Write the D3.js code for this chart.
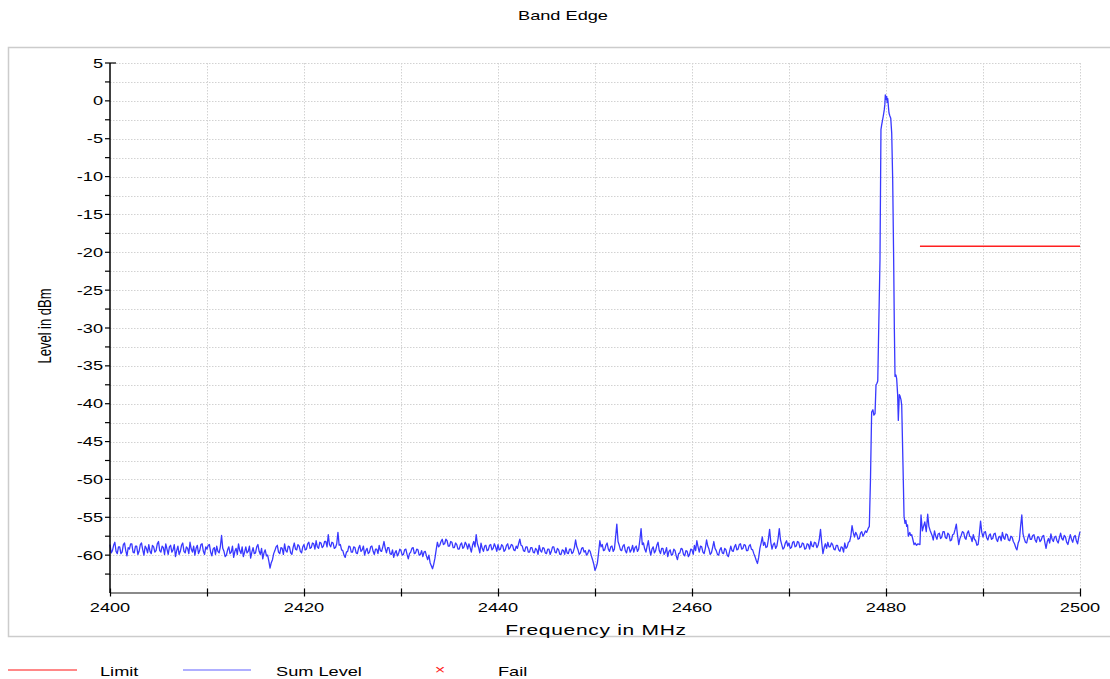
<!DOCTYPE html>
<html>
<head>
<meta charset="utf-8">
<script src="https://cdn.jsdelivr.net/npm/d3@7"></script>
<style>
  body { margin: 0; background: #fff; }
  svg { display: block; font-family: "Liberation Sans", Arial, sans-serif; }
</style>
</head>
<body>
<svg id="chart" width="1110" height="679"></svg>
<script>
// Sweep below the carrier, 2400 .. 2477.875 MHz, 0.125 MHz steps (dBm)
const noiseLow = [
  -58.6,-59.7,-59.4,-58.7,-58.3,-59.5,-59.8,-58.9,-58.9,-59.8,-59.6,-58.6,-58.4,-59.4,-60.1,-59.0,-59.2,-58.5,-58.5,-59.6,
  -59.7,-58.8,-58.8,-59.9,-59.5,-58.6,-58.4,-59.3,-60.0,-58.8,-59.1,-59.7,-58.6,-59.5,-59.8,-58.7,-58.9,-59.6,-59.4,-58.5,
  -58.2,-59.4,-59.6,-58.8,-59.0,-59.9,-58.5,-59.2,-59.9,-58.9,-58.7,-59.6,-59.3,-58.6,-60.2,-59.4,-58.8,-59.9,-59.5,-58.7,
  -58.4,-59.5,-59.7,-58.9,-59.1,-59.8,-58.3,-59.2,-59.6,-58.8,-60.0,-59.1,-58.7,-59.8,-59.4,-58.6,-58.5,-59.5,-59.9,-58.9,
  -59.2,-58.7,-58.6,-59.6,-60.1,-59.2,-59.0,-59.9,-58.8,-59.5,-59.7,-58.9,-57.4,-59.1,-59.5,-60.2,-60.0,-59.3,-58.9,-59.8,
  -59.6,-58.8,-60.3,-59.5,-59.1,-59.9,-58.5,-59.4,-59.8,-58.9,-60.2,-59.6,-58.9,-59.7,-59.5,-58.8,-60.4,-59.6,-59.0,-59.8,
  -59.7,-58.9,-58.6,-59.5,-59.9,-59.1,-60.5,-59.7,-59.3,-60.1,-60.0,-60.8,-61.7,-61.0,-60.6,-59.8,-59.4,-58.9,-58.7,-59.6,
  -59.8,-59.0,-59.1,-59.9,-58.5,-59.4,-59.6,-58.8,-58.9,-59.7,-59.9,-59.0,-58.4,-59.2,-59.3,-58.6,-58.8,-59.5,-59.7,-58.9,
  -58.6,-59.3,-59.2,-58.5,-58.3,-59.1,-59.0,-58.4,-58.5,-59.2,-58.1,-58.9,-59.1,-58.3,-58.4,-59.0,-58.8,-58.2,-58.2,-58.9,
  -57.3,-58.6,-58.9,-58.3,-58.4,-59.1,-59.0,-58.5,-57.0,-58.7,-58.6,-59.3,-59.4,-60.0,-60.3,-59.6,-59.5,-58.8,-58.9,-59.6,
  -59.6,-58.9,-59.0,-59.7,-59.8,-59.1,-58.7,-59.5,-59.3,-58.8,-60.0,-59.4,-59.1,-59.8,-59.6,-58.9,-58.8,-59.5,-59.9,-59.2,
  -59.2,-59.8,-58.7,-59.4,-59.5,-58.9,-58.2,-59.1,-59.7,-59.0,-59.0,-59.8,-59.9,-59.3,-60.3,-59.7,-59.4,-60.1,-59.8,-59.2,
  -59.4,-60.0,-59.9,-59.3,-59.2,-59.9,-60.5,-59.8,-59.6,-59.1,-59.0,-59.8,-59.7,-59.2,-59.3,-60.0,-59.9,-59.4,-60.2,-59.6,
  -59.5,-60.1,-60.6,-60.0,-61.0,-61.4,-61.8,-61.2,-60.4,-59.3,-58.3,-58.9,-58.7,-58.2,-57.9,-58.6,-58.5,-57.9,-58.1,-58.8,
  -58.8,-58.2,-58.3,-59.0,-59.0,-58.4,-58.6,-59.2,-59.2,-58.6,-58.4,-59.1,-58.9,-58.3,-58.6,-59.2,-58.5,-59.0,-59.6,-58.7,
  -58.2,-58.9,-57.3,-58.5,-59.0,-59.7,-58.4,-59.1,-59.5,-58.8,-58.7,-59.4,-59.3,-58.7,-58.6,-59.3,-59.1,-58.5,-58.9,-59.5,
  -58.6,-59.3,-59.2,-58.6,-58.8,-59.5,-59.3,-58.7,-58.5,-59.2,-59.0,-58.6,-58.7,-59.3,-59.4,-58.8,-59.1,-58.5,-57.9,-58.7,
  -58.8,-59.4,-59.5,-58.9,-58.9,-59.6,-59.6,-59.0,-59.0,-59.6,-59.7,-59.1,-59.3,-59.9,-58.7,-59.4,-59.6,-59.0,-59.1,-59.7,
  -59.8,-59.2,-59.2,-59.9,-59.5,-58.9,-58.9,-59.6,-59.7,-59.1,-59.3,-59.9,-59.9,-59.3,-59.4,-59.9,-59.0,-59.7,-59.8,-59.2,
  -59.2,-59.8,-59.6,-59.0,-58.0,-58.9,-59.3,-59.9,-59.7,-59.1,-59.0,-59.6,-59.4,-60.0,-59.8,-59.3,-59.5,-60.1,-60.6,-61.2,
  -62.0,-61.6,-61.0,-59.6,-58.1,-58.9,-58.6,-59.4,-59.3,-58.7,-58.4,-59.2,-59.5,-58.9,-58.8,-59.5,-59.2,-57.6,-55.9,-58.2,
  -58.7,-59.3,-59.4,-58.8,-58.6,-59.4,-59.7,-59.0,-58.9,-59.6,-59.3,-58.7,-59.6,-59.0,-58.8,-59.5,-59.2,-58.0,-56.5,-58.6,
  -58.4,-59.2,-59.6,-58.8,-58.1,-59.3,-60.0,-59.2,-58.9,-59.7,-59.4,-58.7,-58.3,-59.4,-59.8,-59.1,-59.1,-59.9,-59.6,-59.0,
  -60.2,-59.5,-59.3,-60.0,-59.9,-59.2,-59.4,-60.1,-60.6,-59.8,-59.7,-59.1,-59.2,-59.9,-60.1,-59.4,-59.5,-60.2,-59.9,-59.2,
  -59.3,-59.9,-58.7,-59.4,-58.1,-58.9,-59.6,-58.8,-58.9,-59.6,-59.8,-59.1,-58.0,-58.8,-59.2,-59.9,-59.7,-59.0,-58.2,-59.1,
  -59.4,-59.9,-60.0,-59.3,-59.0,-59.7,-59.8,-59.1,-59.3,-60.0,-60.2,-59.5,-58.8,-59.4,-59.5,-58.9,-58.6,-59.3,-59.2,-58.6,
  -58.5,-59.2,-59.1,-58.6,-58.7,-59.4,-59.4,-58.8,-58.6,-59.2,-59.3,-59.8,-60.2,-60.7,-61.1,-60.3,-59.1,-58.4,-57.6,-58.7,
  -58.3,-59.0,-58.9,-57.9,-56.6,-58.3,-59.2,-58.6,-58.4,-59.1,-58.8,-57.8,-56.5,-58.0,-58.6,-59.2,-59.0,-58.4,-58.1,-58.8,
  -58.4,-59.1,-59.0,-58.3,-58.2,-58.9,-58.8,-58.2,-58.3,-59.0,-58.9,-58.4,-58.5,-59.2,-59.1,-58.5,-58.6,-59.2,-58.2,-58.8,
  -58.9,-58.3,-58.4,-59.0,-58.7,-57.9,-56.6,-58.4,-59.8,-59.0,-58.5,-59.1,-58.3,-58.9,-58.9,-58.4,-58.6,-59.2,-59.3,-58.7,
  -58.7,-59.3,-59.5,-58.9,-59.0,-59.6,-58.4,-59.1,-58.9,-58.3,-58.2,-57.5,-56.1,-57.0,-57.6,-57.0,-57.3,-57.9,-57.8,-57.1,
  -56.9,-57.5,-57.2,-56.8
];
const lowStart = 2400, step = 0.125;

// Carrier region, read point by point
const peakFreq = [
  2478.0, 2478.15, 2478.28, 2478.4, 2478.52, 2478.65, 2478.75, 2478.87, 2478.97, 2479.07,
  2479.15, 2479.25, 2479.38, 2479.48, 2479.55, 2479.62, 2479.72, 2479.82, 2479.88, 2479.93,
  2480.0, 2480.07, 2480.12, 2480.18, 2480.25, 2480.31, 2480.4, 2480.49, 2480.59, 2480.69,
  2480.79, 2480.86, 2480.93, 2481.02, 2481.1, 2481.2, 2481.27, 2481.37, 2481.45, 2481.55,
  2481.62, 2481.75, 2481.86, 2481.96, 2482.05, 2482.13, 2482.22, 2482.3, 2482.45, 2482.55,
  2482.65, 2482.8, 2482.89, 2483.0, 2483.15, 2483.3, 2483.5, 2483.61, 2483.75, 2483.85,
  2484.0, 2484.15, 2484.3, 2484.42, 2484.54
];
const peakLevel = [
  -57.0, -56.5, -56.2, -50.0, -41.1, -40.8, -41.5, -41.3, -37.5, -37.3,
  -37.0, -30.0, -21.0, -3.8, -3.2, -2.7, -2.0, -1.2, -0.5, 0.8,
  0.2, 0.6, -0.2, 0.3, -0.8, -1.6, -2.0, -2.3, -4.3, -10.5,
  -21.0, -30.0, -36.4, -36.2, -36.7, -38.8, -42.2, -38.8, -39.0, -39.5,
  -40.2, -48.0, -54.9, -55.8, -55.4, -56.2, -56.0, -57.5, -57.0, -57.4,
  -57.3, -58.1, -58.6, -58.4, -58.7, -58.5, -58.6, -54.7, -56.8, -56.3,
  -55.6, -56.9, -54.6, -56.2, -56.7
];

// Sweep above the carrier, 2484.75 .. 2500 MHz, 0.125 MHz steps
const noiseHigh = [
  -57.4,-58.0,
  -56.8,-57.5,-57.9,-57.2,-57.1,-57.8,-57.6,-56.9,-56.9,-57.7,-57.8,-57.1,-57.3,-58.1,-58.0,-57.3,
  -57.2,-56.6,-55.9,-57.4,-58.6,-57.8,-57.4,-56.9,-57.0,-57.7,-57.9,-57.1,-56.8,-57.5,-57.6,-58.2,
  -57.3,-57.9,-58.1,-58.7,-58.6,-57.2,-55.5,-57.0,-57.6,-57.0,-56.9,-57.7,-58.0,-57.4,-57.2,-57.9,
  -57.8,-57.2,-57.1,-57.9,-58.2,-57.6,-57.5,-58.1,-57.0,-57.7,-57.9,-57.2,-57.3,-58.0,-58.1,-57.5,
  -57.6,-58.2,-58.5,-59.0,-59.3,-58.4,-58.0,-56.2,-54.7,-57.2,-57.8,-58.3,-58.4,-57.7,-57.2,-57.9,
  -57.9,-57.4,-57.3,-58.0,-58.3,-57.6,-57.6,-58.2,-58.0,-57.5,-57.4,-58.3,-59.1,-58.2,-57.8,-58.4,
  -57.2,-57.9,-58.2,-57.6,-57.5,-58.1,-58.4,-57.7,-57.1,-57.8,-58.0,-57.4,
  -57.6,-58.3,-58.6,-57.9,-57.3,-57.9,-58.3,-57.6,-57.4,-58.1,-58.5,-57.6,
  -56.9
];
const highStart = 2484.75;

// Limit line
const limitFreq = [2483.5, 2500];
const limitLevel = -19.2;

const xTicks = [2400, 2420, 2440, 2460, 2480, 2500];
const yTicks = [5, 0, -5, -10, -15, -20, -25, -30, -35, -40, -45, -50, -55, -60];

const trace = [
  ...noiseLow.map((v, i) => ({ f: lowStart + i * step, v })),
  ...peakFreq.map((f, i) => ({ f, v: peakLevel[i] })),
  ...noiseHigh.map((v, i) => ({ f: highStart + i * step, v }))
];

const svg = d3.select("#chart");
const plotLeft = 110, plotRight = 1080, plotTop = 63, plotBottom = 593;
const sx = 1.4; // text is drawn wide, as in the reference

const xScale = d3.scaleLinear().domain([2400, 2500]).range([plotLeft, plotRight]);
const yScale = d3.scaleLinear().domain([-65, 5]).range([plotBottom, plotTop]);

// Outer frame
svg.append("rect")
  .attr("x", 8.5).attr("y", 47.5)
  .attr("width", 1120).attr("height", 589)
  .attr("fill", "none").attr("stroke", "#cccccc").attr("stroke-width", 1.5);

// Title
svg.append("text")
  .attr("transform", `translate(563,20) scale(${sx},1)`)
  .attr("text-anchor", "middle")
  .attr("font-size", 13)
  .text("Band Edge");

// Grid
const grid = svg.append("g")
  .attr("stroke", "#d2d2d2").attr("stroke-width", 1).attr("stroke-dasharray", "1.5,1.5");
grid.selectAll(".hgrid")
  .data(d3.range(-62.5, 5.01, 2.5))
  .join("line")
  .attr("x1", plotLeft).attr("x2", plotRight)
  .attr("y1", d => Math.round(yScale(d)) + 0.5).attr("y2", d => Math.round(yScale(d)) + 0.5);
grid.selectAll(".vgrid")
  .data(d3.range(2410, 2500.1, 10))
  .join("line")
  .attr("y1", plotTop).attr("y2", plotBottom)
  .attr("x1", d => Math.round(xScale(d)) + 0.5).attr("x2", d => Math.round(xScale(d)) + 0.5);

// Trace
svg.append("path")
  .datum(trace)
  .attr("fill", "none")
  .attr("stroke", "#3838ff")
  .attr("stroke-width", 1.3)
  .attr("stroke-linejoin", "round")
  .attr("d", d3.line().x(d => xScale(d.f)).y(d => yScale(d.v)));

// Limit
svg.append("line")
  .attr("x1", xScale(limitFreq[0])).attr("x2", xScale(limitFreq[1]))
  .attr("y1", yScale(limitLevel)).attr("y2", yScale(limitLevel))
  .attr("stroke", "#ff2020").attr("stroke-width", 1.5);

// X axis
const bottomAxis = d3.axisBottom(xScale)
  .tickValues(d3.range(2400, 2500.1, 10))
  .tickSizeInner(4).tickSizeOuter(0)
  .tickFormat("");
const xg = svg.append("g")
  .attr("transform", `translate(0, ${plotBottom - 0.5})`)
  .call(bottomAxis);
xg.select(".domain").attr("stroke", "#8a8a8a").attr("stroke-width", 2);
xg.selectAll(".tick line").attr("y1", -4).attr("stroke", "#000").attr("stroke-width", 1.2);

svg.selectAll(".xlabel")
  .data(xTicks)
  .join("text")
  .attr("class", "xlabel")
  .attr("transform", d => `translate(${xScale(d)},612) scale(${sx},1)`)
  .attr("text-anchor", "middle")
  .attr("font-size", 13)
  .text(d => d);

svg.append("text")
  .attr("transform", `translate(596,635) scale(${sx},1)`)
  .attr("text-anchor", "middle")
  .attr("font-size", 15)
  .attr("letter-spacing", 0.5)
  .text("Frequency in MHz");

// Y axis
svg.append("line")
  .attr("x1", plotLeft).attr("x2", plotLeft)
  .attr("y1", plotTop).attr("y2", plotBottom)
  .attr("stroke", "#000").attr("stroke-width", 1.5);
svg.selectAll(".ytick")
  .data(d3.range(-62.5, 5.01, 2.5))
  .join("line")
  .attr("class", "ytick")
  .attr("x1", plotLeft - 5)
  .attr("x2", d => d === 5 ? plotLeft + 6 : plotLeft)
  .attr("y1", d => yScale(d)).attr("y2", d => yScale(d))
  .attr("stroke", "#000").attr("stroke-width", 1.2);

svg.selectAll(".ylabel")
  .data(yTicks)
  .join("text")
  .attr("class", "ylabel")
  .attr("transform", d => `translate(103,${yScale(d) + 4.5}) scale(${sx},1)`)
  .attr("text-anchor", "end")
  .attr("font-size", 13)
  .text(d => String(d));

svg.append("text")
  .attr("transform", `translate(51,326) scale(${sx},1) rotate(-90)`)
  .attr("text-anchor", "middle")
  .attr("font-size", 13)
  .text("Level in dBm");

// Legend
const legend = svg.append("g");
legend.append("line")
  .attr("x1", 8).attr("x2", 77).attr("y1", 670).attr("y2", 670)
  .attr("stroke", "#ff6060").attr("stroke-width", 1.5);
legend.append("text")
  .attr("transform", `translate(100,676) scale(${sx},1)`)
  .attr("font-size", 13).text("Limit");
legend.append("line")
  .attr("x1", 183).attr("x2", 251).attr("y1", 670).attr("y2", 670)
  .attr("stroke", "#6060ff").attr("stroke-width", 1.2);
legend.append("text")
  .attr("transform", `translate(276,676) scale(${sx},1)`)
  .attr("font-size", 13).text("Sum Level");
legend.append("text")
  .attr("transform", `translate(440,674) scale(${sx},1)`)
  .attr("text-anchor", "middle")
  .attr("font-size", 13).attr("fill", "#ff2020").text("×");
legend.append("text")
  .attr("transform", `translate(498,676) scale(${sx},1)`)
  .attr("font-size", 13).text("Fail");
</script>
</body>
</html>
